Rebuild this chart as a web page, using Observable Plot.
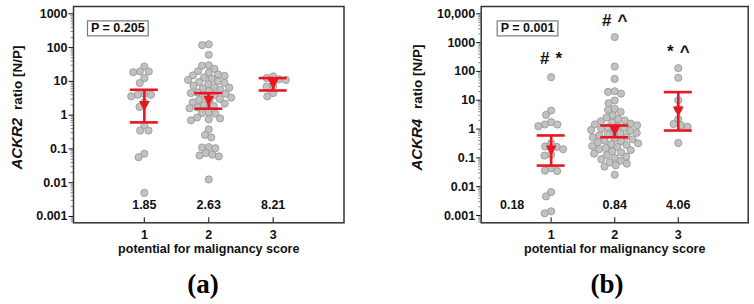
<!DOCTYPE html>
<html><head><meta charset="utf-8">
<script src="https://cdn.jsdelivr.net/npm/d3@7"></script>
<script src="https://cdn.jsdelivr.net/npm/@observablehq/plot@0.6"></script>
<style>
body{margin:0;background:#fff;}
#wrap{position:relative;width:754px;height:304px;background:#fff;overflow:hidden;}
.panel{position:absolute;top:0;}
.tag{position:absolute;font-family:"Liberation Serif","Times New Roman",serif;font-weight:bold;font-size:27px;line-height:1;transform:translate(-50%,-50%);}
</style></head><body><div id="wrap"></div>
<script>
// ---------- data ----------
const groups = [1, 2, 3];
const xTickLabels = ["1", "2", "3"];
const xLabel = "potential for malignancy score";

const yTicksA = [1000, 100, 10, 1, 0.1, 0.01, 0.001];
const yTickLabelsA = ["1000", "100", "10", "1", "0.1", "0.01", "0.001"];
const yTicksB = [10000, 1000, 100, 10, 1, 0.1, 0.01, 0.001];
const yTickLabelsB = ["10,000", "1000", "100", "10", "1", "0.1", "0.01", "0.001"];

// ACKR2 ratio (panel a)
const ackr2Score1 = [27.5, 19.6, 19.6, 18.6, 12.4, 8.9, 4.3, 4.0, 4.0, 3.6, 2.4, 1.75, 0.5, 0.35, 0.35, 0.072, 0.057, 0.005];
const ackr2Score2 = [125, 118, 61, 30, 29, 23.5,
  20, 18, 16, 15, 14.5, 13, 12, 11, 10, 9.5, 9, 8.2, 7.5, 6.8, 6.5, 6.2, 5.6, 5.1,
  4.7, 4.5, 4.3, 3.9, 3.6, 3.3, 3.0, 2.8, 2.6, 2.4, 2.2, 2.0, 1.85, 1.7, 1.6,
  1.2, 1.15, 1.1, 0.85, 0.8, 0.75, 0.7, 0.38, 0.26, 0.22, 0.113, 0.11, 0.105,
  0.075, 0.068, 0.064, 0.06, 0.0125];
const ackr2Score3 = [14, 12.5, 11.5, 11, 7.5, 7, 4.5, 3.6];
const ackr2Mean = [1.85, 2.63, 8.21];
const ackr2Lo = [0.61, 1.55, 5.37];
const ackr2Hi = [5.64, 4.48, 12.5];
const ackr2P = "P = 0.205";

// ACKR4 ratio (panel b)
const ackr4Score1 = [63, 4.4, 3.1, 1.74, 1.44, 1.44, 1.26, 0.32, 0.25, 0.24, 0.2, 0.13, 0.12, 0.044, 0.036, 0.035, 0.0065, 0.0046, 0.0014, 0.0012];
const ackr4Score2 = [1550, 148, 55, 20.5, 19.5, 17,
  9.8, 7.9, 5.0, 4.6, 3.9, 3.0, 2.5, 2.2, 2.0, 1.85, 1.7, 1.55, 1.45, 1.35, 1.25, 1.15,
  1.08, 1.0, 0.93, 0.87, 0.8, 0.74, 0.69, 0.64, 0.6, 0.55, 0.51, 0.47, 0.44, 0.41, 0.38,
  0.35, 0.32, 0.3, 0.28, 0.26, 0.24, 0.22, 0.2, 0.185, 0.17, 0.155, 0.14, 0.125, 0.11, 0.1,
  0.09, 0.08, 0.07, 0.063, 0.055, 0.05, 0.026];
const ackr4Score3 = [130, 60, 10, 5, 2.2, 1.5, 1.35, 1.2, 0.33];
const ackr4Mean = [0.18, 0.84, 4.06];
const ackr4Lo = [0.054, 0.52, 0.89];
const ackr4Hi = [0.6, 1.33, 19.1];
const ackr4P = "P = 0.001";
const ackr4Sig = ["# *", "# ^", "* ^"];
const ackr4SigY = [280, 5900, 490];

// ---------- drawing ----------
const RED = "#ea1620";
const downTriangle = {
  draw(ctx, size) {
    const r = Math.sqrt(size / Math.PI);
    ctx.moveTo(-r, -r * 0.95);
    ctx.lineTo(r, -r * 0.95);
    ctx.lineTo(0, r * 0.95);
    ctx.closePath();
  }
};

function swarm(vals, g, toPx, unitPx, D) {
  const items = vals.map(v => ({g, v, py: toPx(v)})).sort((a, b) => a.py - b.py);
  const placed = [];
  for (const p of items) {
    const iv = [];
    for (const q of placed) {
      const dy = Math.abs(q.py - p.py);
      if (dy < D) { const dx = Math.sqrt(D * D - dy * dy); iv.push([q.ox - dx, q.ox + dx]); }
    }
    const cands = [0, ...iv.flat()].sort((a, b) => Math.abs(a) - Math.abs(b));
    let ox = 0;
    for (const c of cands) {
      if (iv.every(([a, b]) => c <= a + 1e-6 || c >= b - 1e-6)) { ox = c; break; }
    }
    p.ox = ox; placed.push(p);
  }
  return items.map(p => ({g: p.g, v: p.v, x: p.g + p.ox / unitPx}));
}

function minorTicks(lo, hi) {
  const out = [];
  for (let e = Math.floor(Math.log10(lo)); e <= Math.ceil(Math.log10(hi)); e++)
    for (let k = 2; k <= 9; k++) { const v = k * Math.pow(10, e); if (v > lo && v < hi) out.push(v); }
  return out;
}

function buildPanel(cfg) {
  const W = 377, H = 262;
  const base = {
    width: W, height: H,
    marginLeft: cfg.ml, marginRight: cfg.mr, marginTop: 6, marginBottom: H - 222.3,
    x: {domain: [-0.1, 4.1], axis: null},
    y: {type: "log", domain: cfg.yDomain, axis: null},
    style: {fontFamily: "'Liberation Sans', Arial, sans-serif", fontSize: "12.5px", fontWeight: "bold", color: "#111", background: "white", overflow: "visible"}
  };
  const raw = cfg.series.flatMap((vals, i) => vals.map(v => ({g: groups[i], v})));
  const pre = Plot.plot({...base, marks: [Plot.dot(raw, {x: "g", y: "v"})]});
  const ys = pre.scale("y"), xs = pre.scale("x");
  const unitPx = xs.apply(1) - xs.apply(0);
  const pts = cfg.series.flatMap((vals, i) => swarm(vals, groups[i], v => ys.apply(v), unitPx, 6.7));
  const stats = groups.map((g, i) => ({g, mean: cfg.mean[i], lo: cfg.lo[i], hi: cfg.hi[i], label: cfg.mean[i].toFixed(2), sig: cfg.sig ? cfg.sig[i] : null, sigY: cfg.sigY ? cfg.sigY[i] : null}));
  const cap = 14 / unitPx;
  const yBottom = cfg.yDomain[0];
  const yTickTop = ys.invert(ys.apply(yBottom) - 5);
  const [lo, hi] = cfg.yDomain;

  const marks = [
    Plot.axisY(minorTicks(lo, hi), {tickSize: 2.5, tickFormat: () => "", stroke: "#888", label: null}),
    Plot.axisY(cfg.yTicks, {tickSize: 4.5, tickPadding: 1.5, tickFormat: d => cfg.yTickLabels[cfg.yTicks.indexOf(d)], label: null}),
    Plot.axisX(groups, {tickSize: 0, tickPadding: 7.5, tickFormat: d => xTickLabels[groups.indexOf(d)], label: null}),
    Plot.ruleX(groups, {x: d => d, y1: yBottom, y2: yTickTop, stroke: "#333", strokeWidth: 1.2}),
    Plot.dot(pts, {x: "x", y: "v", r: 3.6, fill: "#c2c2c2", stroke: "#939393", strokeWidth: 0.8}),
    Plot.ruleX(stats, {x: "g", y1: "lo", y2: "hi", stroke: RED, strokeWidth: 2.6}),
    Plot.ruleY(stats, {y: "lo", x1: d => d.g - cap, x2: d => d.g + cap, stroke: RED, strokeWidth: 2.6}),
    Plot.ruleY(stats, {y: "hi", x1: d => d.g - cap, x2: d => d.g + cap, stroke: RED, strokeWidth: 2.6}),
    Plot.dot(stats, {x: "g", y: "mean", symbol: downTriangle, r: 5.4, fill: RED, stroke: "none"}),
    Plot.text(stats.filter((d, i) => !(cfg.firstLabelDx && i === 0)), {x: "g", text: "label", frameAnchor: "bottom", dy: -13.6, fontSize: 12.5, fontWeight: "bold"}),
    Plot.text([cfg.p], {frameAnchor: "top-left", dx: cfg.pDx, dy: 17, text: d => d, textAnchor: "start", fontSize: 12.5, fontWeight: "bold"}),
    Plot.text([xLabel], {frameAnchor: "bottom", dy: 30.5, text: d => d, fontSize: 12.5, fontWeight: "bold"}),
    Plot.frame({stroke: "#333", strokeWidth: 1.5})
  ];
  if (cfg.firstLabelDx) marks.push(Plot.text(stats.slice(0, 1), {x: "g", text: "label", frameAnchor: "bottom", dy: -13.6, dx: cfg.firstLabelDx, fontSize: 12.5, fontWeight: "bold"}));
  if (cfg.sig) marks.push(Plot.text(stats, {x: "g", y: "sigY", text: d => d.sig.replace(" ", "\u00a0\u200a"), fontSize: 17, fontWeight: "bold"}));

  const svg = Plot.plot({...base, marks});
  svg.classList.add("panel");
  svg.style.left = cfg.left + "px";
  document.getElementById("wrap").appendChild(svg);

  const s = d3.select(svg);
  // box around P value
  const ptxt = s.selectAll("text").filter(function () { return this.textContent === cfg.p; }).node();
  if (ptxt) {
    const bb = ptxt.getBBox();
    const rect = document.createElementNS("http://www.w3.org/2000/svg", "rect");
    d3.select(rect).attr("x", bb.x - 3.5).attr("y", bb.y - 0.5).attr("width", bb.width + 7).attr("height", bb.height + 1)
      .attr("fill", "none").attr("stroke", "#7a7a7a").attr("stroke-width", 1.2)
      .attr("transform", ptxt.getAttribute("transform"));
    ptxt.parentNode.insertBefore(rect, ptxt);
  }
  // y-axis title with italic gene name
  const t = s.append("text").attr("transform", `translate(${cfg.titleX},107.5) rotate(-90)`)
    .attr("text-anchor", "middle").style("font-weight", "bold").style("font-size", "13.5px").attr("fill", "#111");
  t.append("tspan").style("font-style", "italic").style("font-size", "15px").text(cfg.gene);
  t.append("tspan").style("font-size", "13.5px").attr("dx", cfg.gap).text("ratio [N/P]");

  const tag = document.createElement("div");
  tag.className = "tag"; tag.textContent = cfg.tag;
  tag.style.left = cfg.tagX + "px"; tag.style.top = "284px";
  document.getElementById("wrap").appendChild(tag);
}

buildPanel({
  left: 0, ml: 73, mr: 33.5,
  yDomain: [Math.pow(10, -3.187), Math.pow(10, 3.216)],
  yTicks: yTicksA, yTickLabels: yTickLabelsA,
  series: [ackr2Score1, ackr2Score2, ackr2Score3],
  mean: ackr2Mean, lo: ackr2Lo, hi: ackr2Hi,
  p: ackr2P, pDx: 17.5,
  gene: "ACKR2", gap: 8, titleX: 21.5,
  tag: "(a)", tagX: 203
});
buildPanel({
  left: 377, ml: 103.7, mr: 6.3,
  yDomain: [Math.pow(10, -3.253), Math.pow(10, 4.253)],
  yTicks: yTicksB, yTickLabels: yTickLabelsB,
  series: [ackr4Score1, ackr4Score2, ackr4Score3],
  mean: ackr4Mean, lo: ackr4Lo, hi: ackr4Hi,
  p: ackr4P, pDx: 19.5, firstLabelDx: -39,
  sig: ackr4Sig, sigY: ackr4SigY,
  gene: "ACKR4", gap: 10, titleX: 45,
  tag: "(b)", tagX: 607
});
</script></body></html>
